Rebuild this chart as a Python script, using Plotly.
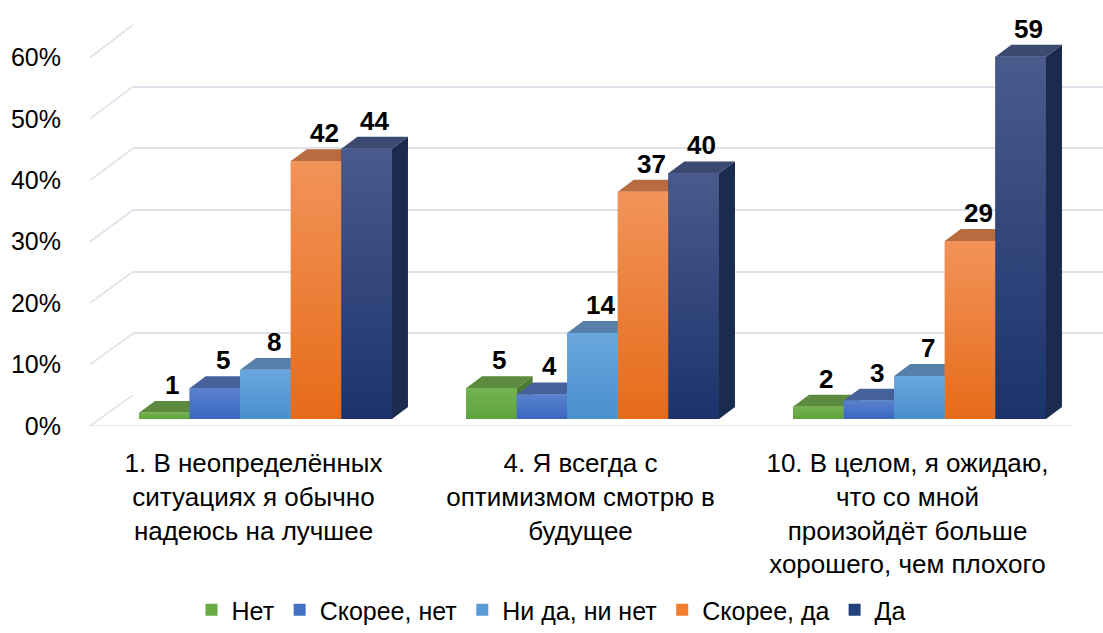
import plotly.graph_objects as go

# ---------------- data ----------------
categories = [
    "1. В неопределённых<br>ситуациях я обычно<br>надеюсь на лучшее",
    "4. Я всегда с<br>оптимизмом смотрю в<br>будущее",
    "10. В целом, я ожидаю,<br>что со мной<br>произойдёт больше<br>хорошего, чем плохого",
]
series_names = ["Нет", "Скорее, нет", "Ни да, ни нет", "Скорее, да", "Да"]
values_net = [1, 5, 2]
values_skoree_net = [5, 4, 3]
values_ni_da_ni_net = [8, 14, 7]
values_skoree_da = [42, 37, 29]
values_da = [44, 40, 59]
tick_values = [0, 10, 20, 30, 40, 50, 60]
tick_labels = ["0%", "10%", "20%", "30%", "40%", "50%", "60%"]

series_values = [values_net, values_skoree_net, values_ni_da_ni_net,
                 values_skoree_da, values_da]

# ---------------- style ----------------
front_colors = ["#6aab46", "#4371c6", "#5b9bd5", "#f07e2c", "#22407a"]
front_top = ["#74b34f", "#5a82cc", "#6aa7de", "#f29359", "#4a5a8c"]
front_bottom = ["#5fa33b", "#3966c1", "#4a8fcf", "#e66b19", "#1b336b"]
top_colors = ["#5c8a3f", "#46609a", "#5680aa", "#b96b40", "#3a4a70"]
side_colors = ["#4b7a30", "#2d4f96", "#3e72a6", "#b5561b", "#1b2a4f"]
FONT = "Liberation Sans"
GRID = "#dde1ea"

W, H = 1103, 633
PX = 6.17              # pixels per percentage point (front / bars)
PX_BACK = 6.2          # pixels per percentage point (back wall)
FX0, FX1, FY0 = 90, 1071, 428   # front floor edge
BACK = (43, -31)       # back wall offset (px)
BARS = (12, -7)        # bar front plane offset (px)
DEPTH = (16, 12)       # bar depth (px)
n_cat = len(categories)
cat_px = (FX1 - FX0) / n_cat
bar_w = 0.1547
n_ser = len(series_names)


def xdom(dx):
    return [(FX0 + dx) / W, min(1.0, (FX1 + dx) / W)]


def ydom(dy, top, px=PX):
    base = FY0 + dy
    return [1 - base / H, 1 - (base - top * px) / H]


fig = go.Figure()

x_pos = list(range(n_cat))
for i, (name, vals) in enumerate(zip(series_names, series_values)):
    fig.add_trace(go.Bar(
        x=x_pos, y=vals, name=name, xaxis="x3", yaxis="y3",
        width=bar_w, offset=-n_ser * bar_w / 2 + i * bar_w,
        marker=dict(color=front_colors[i], line=dict(width=0)),
        hoverinfo="skip",
    ))

ddx = DEPTH[0] / cat_px
ddy = DEPTH[1] / PX

shapes = []
annotations = []
for c in range(n_cat):
    for i in range(n_ser):
        v = series_values[i][c]
        x0 = c - n_ser * bar_w / 2 + i * bar_w
        x1 = x0 + bar_w
        # side face
        shapes.append(dict(
            type="path", xref="x3", yref="y3", layer="below",
            path=f"M{x1},0 L{x1},{v} L{x1+ddx},{v+ddy} L{x1+ddx},{ddy} Z",
            fillcolor=side_colors[i], line=dict(width=0)))
        # top face
        shapes.append(dict(
            type="path", xref="x3", yref="y3", layer="below",
            path=f"M{x0},{v} L{x1},{v} L{x1+ddx},{v+ddy} L{x0+ddx},{v+ddy} Z",
            fillcolor=top_colors[i], line=dict(width=0)))
        # gradient shading of the front face (same rectangle as the bar)
        fig.add_trace(go.Scatter(
            x=[x0, x1, x1, x0, x0], y=[0, 0, v, v, 0],
            xaxis="x3", yaxis="y3", mode="none", fill="toself",
            fillgradient=dict(type="vertical",
                              colorscale=[[0, front_bottom[i]],
                                          [1, front_top[i]]]),
            showlegend=False, hoverinfo="skip"))
        annotations.append(dict(
            x=(x0 + x1) / 2 + ddx / 2, y=v + ddy, xref="x3", yref="y3",
            text=f"<b>{v}</b>", showarrow=False, yanchor="bottom", yshift=-1,
            font=dict(family=FONT, size=26, color="black")))

# diagonal connectors from front tick positions to back wall gridlines
fy = ydom(0, 60)
by = ydom(BACK[1], 60, PX_BACK)
for t in tick_values:
    yf = fy[0] + t / 60 * (fy[1] - fy[0])
    yb = by[0] + t / 60 * (by[1] - by[0])
    shapes.append(dict(type="line", xref="paper", yref="paper", layer="below",
                       x0=FX0 / W, y0=yf, x1=(FX0 + BACK[0]) / W, y1=yb,
                       line=dict(color=GRID, width=1.6)))
# front floor edge
shapes.append(dict(type="line", xref="x", yref="y", layer="below",
                   x0=-0.5, x1=n_cat - 0.5, y0=0, y1=0,
                   line=dict(color=GRID, width=1.6)))

fig.update_layout(
    template="none",
    width=W, height=633, autosize=False,
    margin=dict(l=0, r=0, t=0, b=0, pad=0),
    paper_bgcolor="white", plot_bgcolor="rgba(0,0,0,0)",
    barmode="overlay", showlegend=True,
    font=dict(family=FONT, color="black"),
    xaxis=dict(domain=xdom(0), range=[-0.5, n_cat - 0.5], tickvals=x_pos,
               ticktext=categories, showgrid=False, zeroline=False,
               showline=False, ticks="", ticklabelstandoff=19,
               automargin=False,
               tickfont=dict(family=FONT, size=26, color="black")),
    yaxis=dict(domain=ydom(0, 60), range=[0, 60], tickvals=tick_values,
               ticktext=tick_labels, showgrid=False, zeroline=False,
               showline=False, ticks="", ticklabelstandoff=28,
               automargin=False,
               tickfont=dict(family=FONT, size=25, color="black")),
    xaxis2=dict(domain=xdom(BACK[0]), range=[0, 1], visible=False,
                anchor="y2", automargin=False),
    yaxis2=dict(domain=ydom(BACK[1], 60, PX_BACK), range=[0, 60], dtick=10,
                showgrid=True, gridcolor=GRID, gridwidth=1.6,
                zeroline=False, showticklabels=False, ticks="",
                showline=False, anchor="x2", automargin=False),
    xaxis3=dict(domain=xdom(BARS[0]), range=[-0.5, n_cat - 0.5],
                visible=False, anchor="y3", automargin=False),
    yaxis3=dict(domain=ydom(BARS[1], 66), range=[0, 66], visible=False,
                anchor="x3", automargin=False),
    legend=dict(orientation="h", x=0.5, xanchor="center", y=1 - 613 / H,
                yanchor="middle", font=dict(family=FONT, size=25),
                itemclick=False, bgcolor="rgba(0,0,0,0)"),
    shapes=shapes, annotations=annotations,
)
# invisible traces so the back-wall and front subplots are drawn
fig.add_trace(go.Scatter(x=[0], y=[0], xaxis="x2", yaxis="y2",
                         mode="markers", marker=dict(opacity=0),
                         showlegend=False, hoverinfo="skip"))
fig.add_trace(go.Scatter(x=[0], y=[0], xaxis="x", yaxis="y",
                         mode="markers", marker=dict(opacity=0),
                         showlegend=False, hoverinfo="skip"))

fig.write_html(
    "out.html",
    config={"displayModeBar": False},
    post_script="document.body.style.margin='0px';"
                "document.documentElement.style.overflow='hidden';",
)
